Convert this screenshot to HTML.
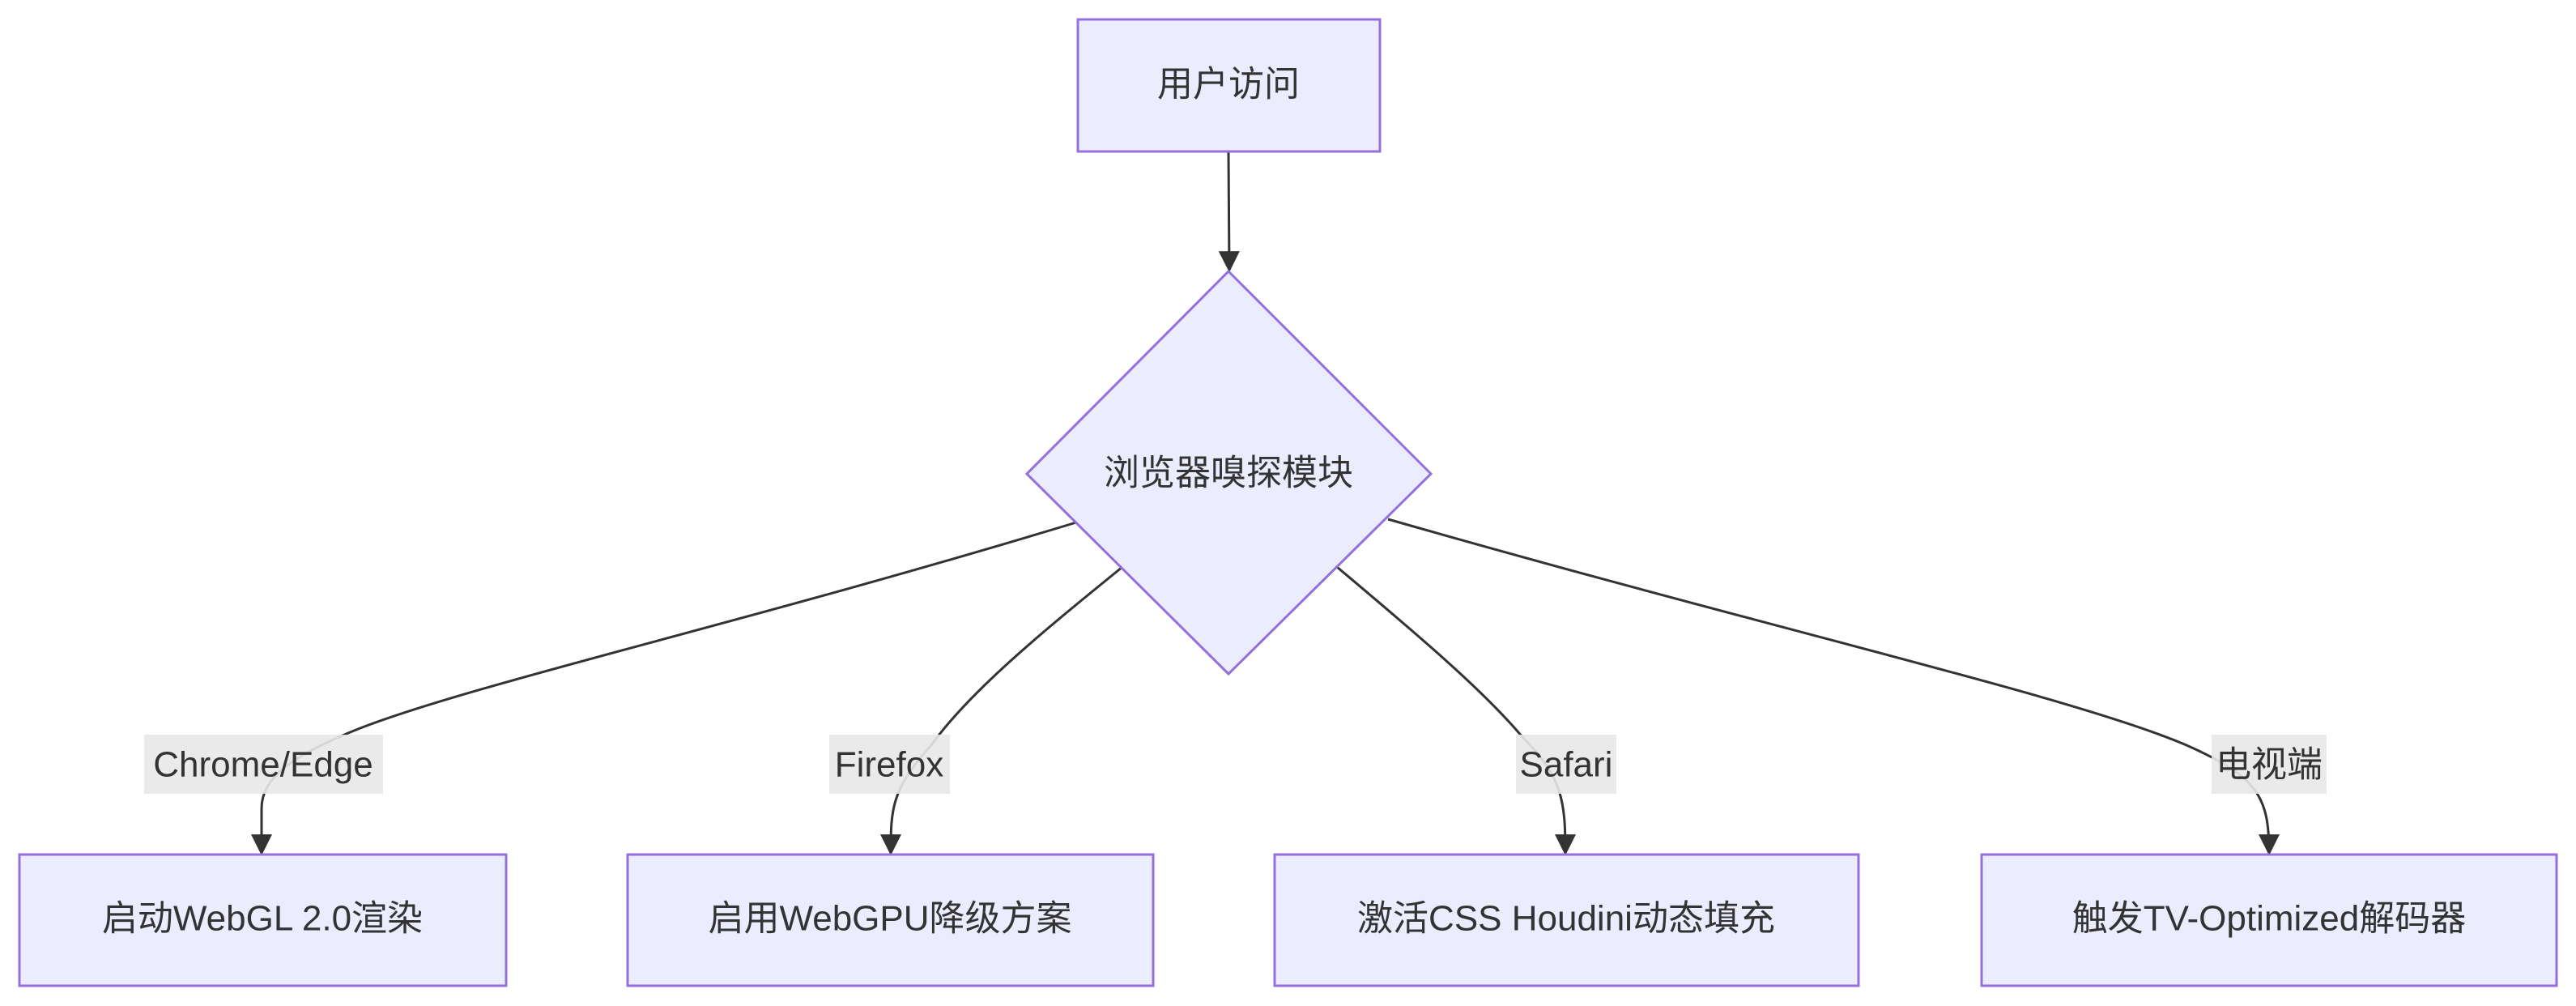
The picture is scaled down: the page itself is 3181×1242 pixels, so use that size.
<!DOCTYPE html>
<html><head><meta charset="utf-8"><style>
html,body{margin:0;padding:0;background:#fff;width:3181px;height:1242px;overflow:hidden}
text{font-family:"Liberation Sans","Noto Sans CJK SC",sans-serif;fill:#333;font-size:44px}
</style></head><body>
<svg width="3181" height="1242" viewBox="0 0 3181 1242" xmlns="http://www.w3.org/2000/svg">
<defs><marker id="a" viewBox="0 0 10 10" refX="9" refY="5" markerWidth="6" markerHeight="6" markerUnits="userSpaceOnUse" orient="auto"><path d="M0,0L10,5L0,10z" fill="#333"/></marker>
<marker id="b" viewBox="0 0 12 12" refX="11" refY="6" markerWidth="26" markerHeight="26" markerUnits="userSpaceOnUse" orient="auto"><path d="M0,0L12,6L0,12z" fill="#333"/></marker></defs>
<g fill="none" stroke="#333" stroke-width="3">
<path d="M1517,188 L1518,334" marker-end="url(#b)"/>
<path d="M1329,645 C900,775 560,850 430,905 C360,935 322,960 323,1000 L323,1054" marker-end="url(#b)"/>
<path d="M1386,700 C1300,770 1200,850 1150,920 C1100,975 1100,1000 1100,1054" marker-end="url(#b)"/>
<path d="M1651,700 C1740,775 1830,850 1880,910 C1930,960 1933,990 1933,1054" marker-end="url(#b)"/>
<path d="M1714,641 C2200,780 2560,860 2700,920 C2790,960 2802,985 2802,1054" marker-end="url(#b)"/>
</g>
<g fill="#ececff" stroke="#9370db" stroke-width="3">
<rect x="1331" y="24" width="373" height="163"/>
<polygon points="1517,335 1767,585 1517,832 1268,585"/>
<rect x="24" y="1055" width="601" height="162"/>
<rect x="775" y="1055" width="649" height="162"/>
<rect x="1574" y="1055" width="721" height="162"/>
<rect x="2447" y="1055" width="710" height="162"/>
</g>
<g fill="#e8e8e8" opacity="0.9">
<rect x="178" y="907" width="295" height="73"/>
<rect x="1024" y="907" width="149" height="73"/>
<rect x="1872" y="907" width="124" height="73"/>
<rect x="2731" y="907" width="142" height="73"/>
</g>
<g text-anchor="middle" dominant-baseline="central">
<text x="1517" y="104">用户访问</text>
<text x="1517" y="584">浏览器嗅探模块</text>
<text x="325" y="944">Chrome/Edge</text>
<text x="1098" y="944">Firefox</text>
<text x="1934" y="944">Safari</text>
<text x="2802" y="944">电视端</text>
<text x="324" y="1134">启动WebGL 2.0渲染</text>
<text x="1099" y="1134">启用WebGPU降级方案</text>
<text x="1934" y="1134">激活CSS Houdini动态填充</text>
<text x="2802" y="1134">触发TV-Optimized解码器</text>
</g>
</svg>
</body></html>
